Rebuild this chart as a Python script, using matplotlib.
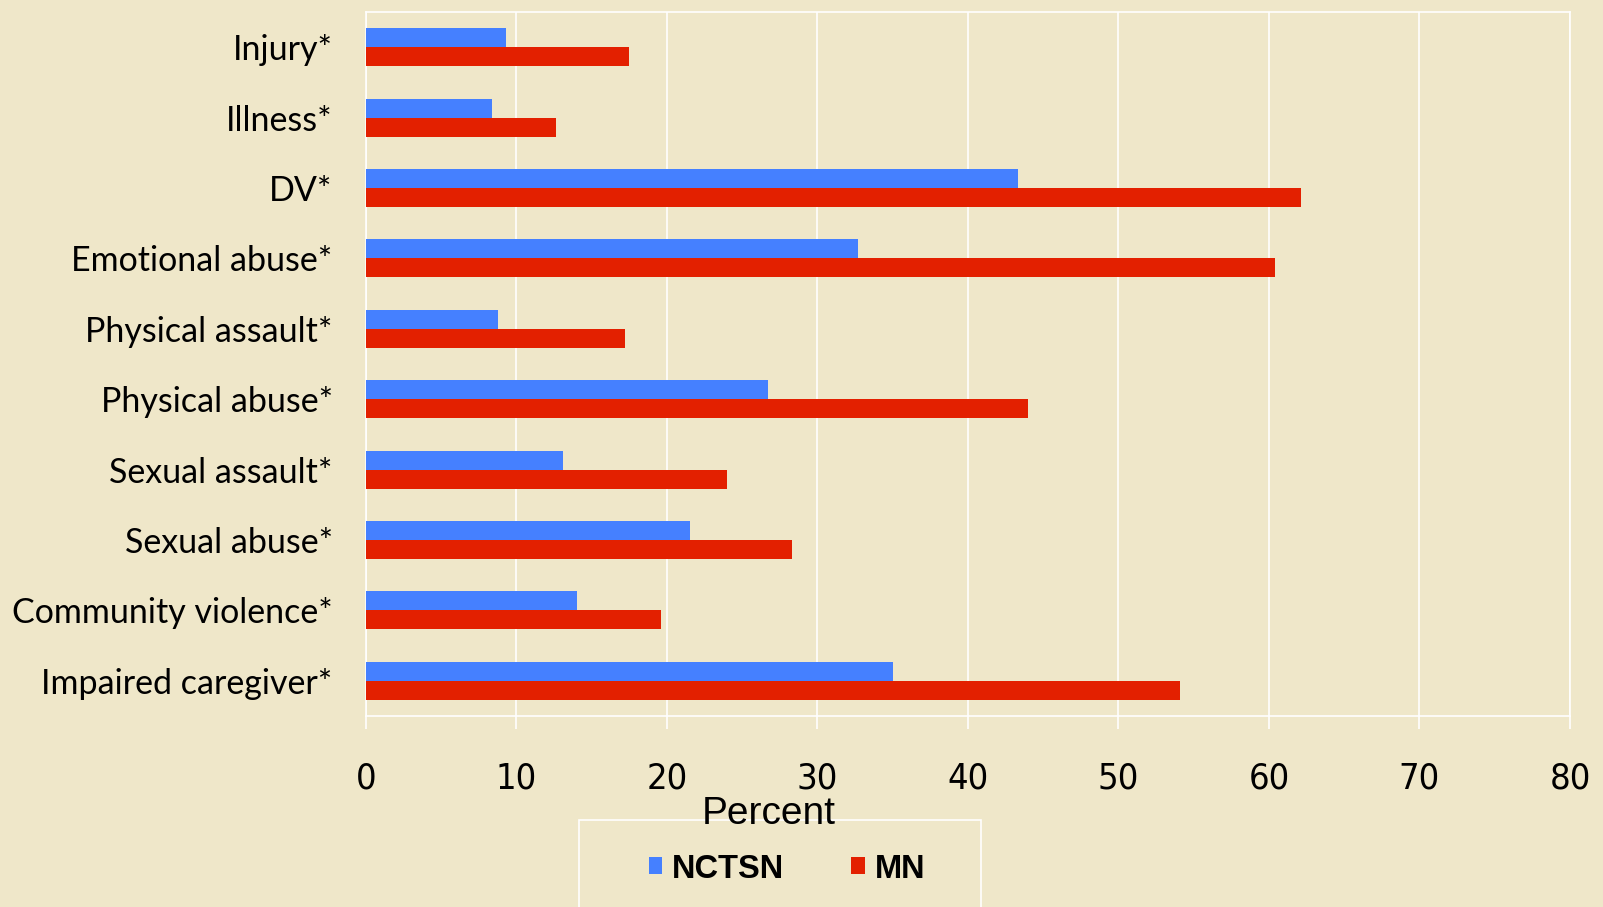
import matplotlib.pyplot as plt
import numpy as np
from matplotlib.patches import Rectangle

# trauma types, top to bottom
categories = ['Injury*', 'Illness*', 'DV*', 'Emotional abuse*', 'Physical assault*',
              'Physical abuse*', 'Sexual assault*', 'Sexual abuse*',
              'Community violence*', 'Impaired caregiver*']
nctsn = [9.3, 8.4, 43.3, 32.7, 8.8, 26.7, 13.1, 21.5, 14.0, 35.0]
mn = [17.5, 12.6, 62.1, 60.4, 17.2, 44.0, 24.0, 28.3, 19.6, 54.1]
xticks = [0, 10, 20, 30, 40, 50, 60, 70, 80]

bg = '#efe7c9'
blue = '#4580ff'
red = '#e32000'

fig = plt.figure(figsize=(16.03, 9.07), dpi=100, facecolor=bg)
ax = fig.add_axes([0.2283, 0.2106, 0.7511, 0.7762])
ax.set_facecolor(bg)

y = np.arange(len(categories))
h = 0.27
ax.barh(y - h / 2, nctsn, height=h, color=blue, label='NCTSN', zorder=3)
ax.barh(y + h / 2, mn, height=h, color=red, label='MN', zorder=3)

ax.set_xlim(0, 80)
ax.set_ylim(len(categories) - 0.5, -0.5)
ax.set_yticks(y)
ax.set_yticklabels(categories, fontsize=24.5, family=['Lato', 'DejaVu Sans'])
ax.tick_params(axis='y', length=0, pad=24)
ax.set_xticks(xticks)
ax.set_xticklabels([str(t) for t in xticks], fontsize=26,
                   family=['DejaVu Sans'], stretch='condensed')
ax.tick_params(axis='x', length=9, color='white', width=1.2, pad=24)
ax.grid(axis='x', color='white', linewidth=1.2, zorder=1)
for s in ax.spines.values():
    s.set_color('white')
    s.set_linewidth(1.2)

# legend box below the plot
fig.patches.append(Rectangle((579 / 1603, -0.01), 402 / 1603, 1 - 820 / 907 + 0.01,
                             transform=fig.transFigure, fill=False,
                             edgecolor='white', linewidth=1.2))
fig.text(769 / 1603, 1 - 814 / 907, 'Percent', fontsize=28, ha='center', va='center',
         family=['Liberation Sans', 'DejaVu Sans'])
leg = fig.legend(loc='center', bbox_to_anchor=(787 / 1603, 1 - 869 / 907), ncol=2,
                 frameon=False, handlelength=0.42, handleheight=0.42, handletextpad=0.3,
                 columnspacing=2.05, prop={'size': 23.5, 'weight': 'bold',
                                           'family': ['Liberation Sans', 'DejaVu Sans']})

fig.savefig('out.png', dpi=100, facecolor=bg)
